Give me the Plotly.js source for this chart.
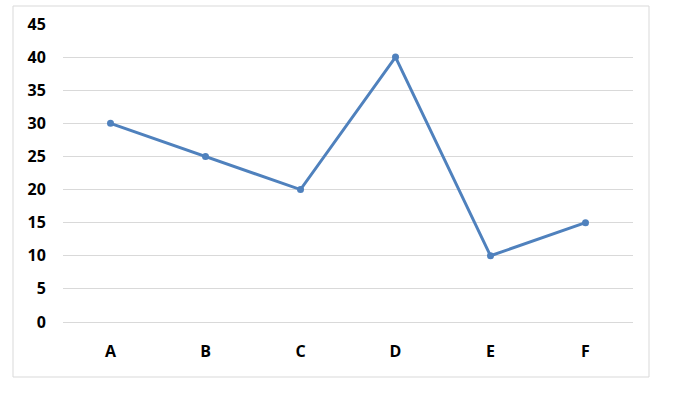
<!DOCTYPE html>
<html><head><meta charset="utf-8">
<script src="https://cdn.plot.ly/plotly-3.0.1.min.js"></script>
<style>body{margin:0;background:#fff}#c{width:678px;height:412px}</style>
</head><body><div id="c"></div>
<script>
const categories = ["A","B","C","D","E","F"];
const values = [30,25,20,40,10,15];
const yTicks = [0,5,10,15,20,25,30,35,40,45];

const L = 63, R = 45, T = 24, B = 90, W = 678, H = 412;
const pw = W - L - R, ph = H - T - B;
const px = x => (x - L) / pw, py = y => (H - B - y) / ph;
const tf = {family: 'Open Sans, sans-serif', size: 16, color: '#000', weight: 'bold'};

Plotly.newPlot('c', [{
  x: categories, y: values, type: 'scatter', mode: 'lines+markers',
  line: {color: '#4f81bd', width: 3},
  marker: {color: '#4f81bd', size: 7}
}], {
  width: W, height: H,
  margin: {l: L, r: R, t: T, b: B},
  paper_bgcolor: '#fff', plot_bgcolor: '#fff',
  showlegend: false,
  font: tf,
  xaxis: {type: 'category', range: [-0.5, 5.5], showgrid: false, zeroline: false, showline: false,
    ticks: 'outside', ticklen: 15, tickcolor: 'rgba(0,0,0,0)', tickfont: tf},
  yaxis: {range: [0, 45], tickvals: yTicks, ticktext: yTicks.map(String), showgrid: true, gridcolor: '#d9d9d9', gridwidth: 1,
    zeroline: true, zerolinecolor: '#d9d9d9', zerolinewidth: 1, showline: false,
    ticks: 'outside', ticklen: 13, tickcolor: 'rgba(0,0,0,0)', tickfont: tf},
  shapes: [{type: 'rect', xref: 'paper', yref: 'paper', x0: px(13), x1: px(649), y0: py(377), y1: py(6),
    line: {color: '#d9d9d9', width: 1}, layer: 'below'}]
}, {displayModeBar: false, staticPlot: true});
</script></body></html>
